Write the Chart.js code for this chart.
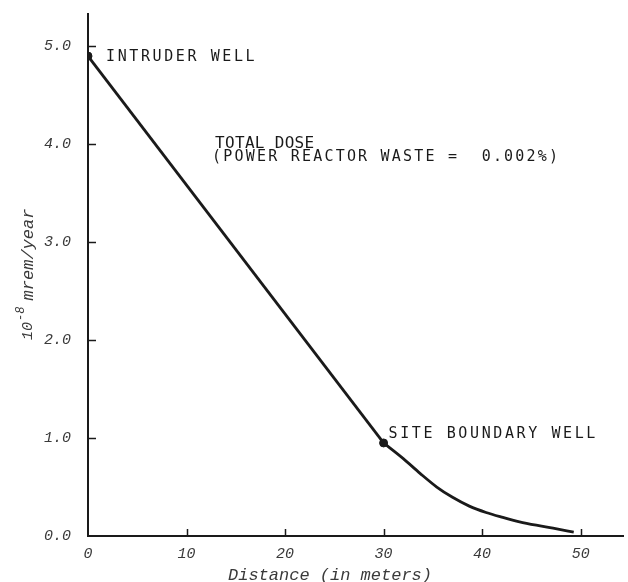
<!DOCTYPE html>
<html>
<head>
<meta charset="utf-8">
<script src="https://cdn.jsdelivr.net/npm/chart.js@4.4.1/dist/chart.umd.min.js"></script>
<style>
  html, body { margin: 0; padding: 0; background: #ffffff; }
  #wrap { width: 628px; height: 582px; position: relative; }
</style>
</head>
<body>
<div id="wrap"><canvas id="c" width="628" height="582"></canvas></div>
<script>
// ---- data ----
const lineDistance = [0, 30];
const lineDose     = [4.9, 0.95];
const curveDistance = [30, 32, 33.7, 35.4, 37, 38.7, 40.4, 42.1, 43.8, 45.5, 47.2, 49.3];
const curveDose     = [0.95, 0.79, 0.64, 0.50, 0.395, 0.305, 0.24, 0.19, 0.145, 0.11, 0.08, 0.04];
const wellDistance = [0, 30];
const wellDose     = [4.9, 0.95];
const wellNames    = ['INTRUDER WELL', 'SITE BOUNDARY WELL'];
const curveTitle   = ['TOTAL DOSE', '(POWER REACTOR WASTE =  0.002%)'];
const xTicks = [0, 10, 20, 30, 40, 50];
const yTicks = [0, 1, 2, 3, 4, 5];
const xTitle = 'Distance (in meters)';
const yTitleParts = ['10', '-8', ' mrem/year'];

const INK = '#1a1a1a';
const LABEL = '#3a3a3a';
const monoItalic = (s) => 'italic ' + s + 'px "Liberation Mono", "DejaVu Sans Mono", monospace';
const plotter = (s) => s + 'px "DejaVu Sans Mono", "Liberation Mono", monospace';

const toPts = (xs, ys) => xs.map((d, i) => ({ x: d, y: ys[i] }));

const decor = {
  id: 'decor',
  afterDraw(chart) {
    const ctx = chart.ctx;
    const xs = chart.scales.x, ys = chart.scales.y;
    const area = chart.chartArea;
    ctx.save();
    // inside tick marks
    ctx.strokeStyle = INK;
    ctx.lineWidth = 1.5;
    xTicks.slice(1).forEach(v => {
      const px = Math.round(xs.getPixelForValue(v)) + 0.5;
      ctx.beginPath(); ctx.moveTo(px, area.bottom); ctx.lineTo(px, area.bottom - 7); ctx.stroke();
    });
    yTicks.slice(1).forEach(v => {
      const py = Math.round(ys.getPixelForValue(v)) + 0.5;
      ctx.beginPath(); ctx.moveTo(area.left, py); ctx.lineTo(area.left + 8, py); ctx.stroke();
    });

    // well labels
    ctx.fillStyle = INK;
    ctx.textBaseline = 'middle';
    ctx.textAlign = 'left';
    ctx.font = plotter(15);
    ctx.letterSpacing = '2.6px';
    const p0x = xs.getPixelForValue(wellDistance[0]), p0y = ys.getPixelForValue(wellDose[0]);
    ctx.fillText(wellNames[0], p0x + 18, p0y + 1);
    const p1x = xs.getPixelForValue(wellDistance[1]), p1y = ys.getPixelForValue(wellDose[1]);
    ctx.fillText(wellNames[1], p1x + 5, p1y - 9);

    // curve title
    const tx = xs.getPixelForValue(12.8);
    ctx.font = plotter(16);
    ctx.letterSpacing = '0.3px';
    ctx.fillText(curveTitle[0], tx + 1, ys.getPixelForValue(4.0));
    ctx.font = plotter(15);
    ctx.letterSpacing = '2.2px';
    ctx.fillText(curveTitle[1], tx - 2, ys.getPixelForValue(3.87));
    ctx.letterSpacing = '0px';

    // x title
    ctx.fillStyle = LABEL;
    ctx.font = monoItalic(17);
    ctx.textAlign = 'center';
    ctx.fillText(xTitle, 330, 575);

    // y title (rotated)
    ctx.translate(28, 340);
    ctx.rotate(-Math.PI / 2);
    ctx.textAlign = 'left';
    ctx.font = monoItalic(15);
    ctx.fillText(yTitleParts[0], 0, 0);
    let w = ctx.measureText(yTitleParts[0]).width;
    ctx.font = monoItalic(12);
    ctx.fillText(yTitleParts[1], w + 1, -7);
    w += 1 + ctx.measureText(yTitleParts[1]).width;
    ctx.font = monoItalic(17);
    ctx.fillText(yTitleParts[2], w - 4, 0);
    ctx.restore();
  }
};

new Chart(document.getElementById('c'), {
  type: 'scatter',
  data: {
    datasets: [
      {
        data: toPts(lineDistance, lineDose),
        showLine: true,
        borderColor: INK,
        borderWidth: 2.8,
        pointRadius: 0,
        tension: 0,
        order: 3
      },
      {
        data: toPts(curveDistance, curveDose),
        showLine: true,
        borderColor: INK,
        borderWidth: 2.8,
        pointRadius: 0,
        cubicInterpolationMode: 'monotone',
        order: 2
      },
      {
        data: toPts(wellDistance, wellDose),
        showLine: false,
        pointRadius: 4,
        pointBackgroundColor: INK,
        pointBorderColor: INK,
        order: 1
      }
    ]
  },
  options: {
    responsive: false,
    animation: false,
    devicePixelRatio: 1,
    layout: { padding: { top: 14, right: 0, left: 0, bottom: 0 } },
    plugins: { legend: { display: false }, tooltip: { enabled: false }, title: { display: false } },
    scales: {
      x: {
        type: 'linear',
        min: 0, max: 54.3,
        afterFit: (s) => { s.height = 46; s.paddingLeft = 0; s.paddingRight = 0; },
        afterBuildTicks: (s) => { s.ticks = xTicks.map(v => ({ value: v })); },
        grid: { display: false, drawTicks: false },
        border: { display: true, color: INK, width: 2 },
        ticks: {
          font: { family: '"Liberation Mono", monospace', style: 'italic', size: 15 },
          color: LABEL,
          padding: 9,
          maxRotation: 0,
          callback: (v) => String(v)
        }
      },
      y: {
        type: 'linear',
        min: 0, max: 5.33,
        afterFit: (s) => { s.width = 88; s.paddingTop = 0; s.paddingBottom = 0; },
        afterBuildTicks: (s) => { s.ticks = yTicks.map(v => ({ value: v })); },
        grid: { display: false, drawTicks: false },
        border: { display: true, color: INK, width: 2 },
        ticks: {
          font: { family: '"Liberation Mono", monospace', style: 'italic', size: 15 },
          color: LABEL,
          padding: 17,
          callback: (v) => Number(v).toFixed(1)
        }
      }
    }
  },
  plugins: [decor]
});
</script>
</body>
</html>
